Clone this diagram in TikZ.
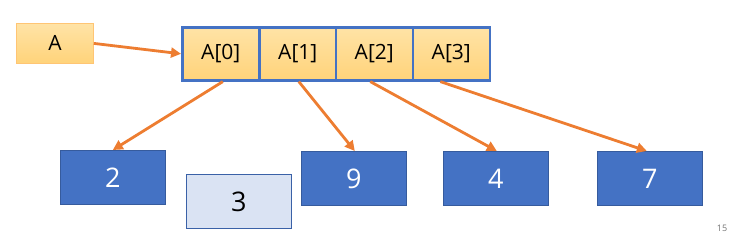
\documentclass[tikz,border=0pt]{standalone}
\usepackage{fontspec}
\setmainfont{Open Sans}
\usetikzlibrary{arrows.meta}
\definecolor{obor}{HTML}{4472C4}
\definecolor{arr}{HTML}{ED7D31}
\definecolor{otop}{HTML}{FFE3A6}
\definecolor{obot}{HTML}{FFD37A}
\definecolor{lightb}{HTML}{DAE3F3}
\tikzset{
  x=1pt,y=-1pt,
  cell/.style={draw=obor,line width=2.6pt,top color=otop,bottom color=obot,minimum width=77pt,minimum height=53pt,inner sep=0pt,font=\fontsize{21}{21}\selectfont,anchor=north west},
  valbox/.style={draw=obor!80!black,line width=0.8pt,fill=obor,text=white,minimum width=105pt,minimum height=54pt,inner sep=0pt,font=\fontsize{27}{27}\selectfont,anchor=north west},
  link/.style={draw=arr,line width=2.8pt,-{Triangle[length=10pt,width=10pt]}},
}
\begin{document}
\begin{tikzpicture}
\useasboundingbox (0,0) rectangle (736,242);
\node[draw=otop!70!orange,line width=0.8pt,top color=otop,bottom color=obot,minimum width=77pt,minimum height=40pt,inner sep=0pt,anchor=north west,font=\fontsize{21}{21}\selectfont] (a) at (16,23) {A};
\node[cell] (c0) at (181,26) {A[0]};
\node[cell] (c1) at (258,26) {A[1]};
\node[cell] (c2) at (334.5,26) {A[2]};
\node[cell] (c3) at (411.5,26) {A[3]};
\node[valbox] (v2) at (60,150) {2};
\node[valbox,fill=lightb,text=black,draw=obor!85!black] (v3) at (186,174) {3};
\node[valbox] (v9) at (301,151) {9};
\node[valbox] (v4) at (443,151) {4};
\node[valbox] (v7) at (597,151) {7};
\node[text=black!55,font=\fontsize{9}{9}\selectfont] (pg) at (722,228) {15};
\draw[link] (a.east) -- (c0.west);
\draw[link] ([xshift=2pt]c0.south) -- ([xshift=-53pt]v2.north east);
\draw[link] ([xshift=1pt]c1.south) -- ([xshift=-52pt]v9.north east);
\draw[link] ([xshift=-4pt]c2.south) -- ([xshift=-52pt]v4.north east);
\draw[link] ([xshift=-11pt]c3.south) -- ([xshift=-56pt]v7.north east);
\end{tikzpicture}
\end{document}
